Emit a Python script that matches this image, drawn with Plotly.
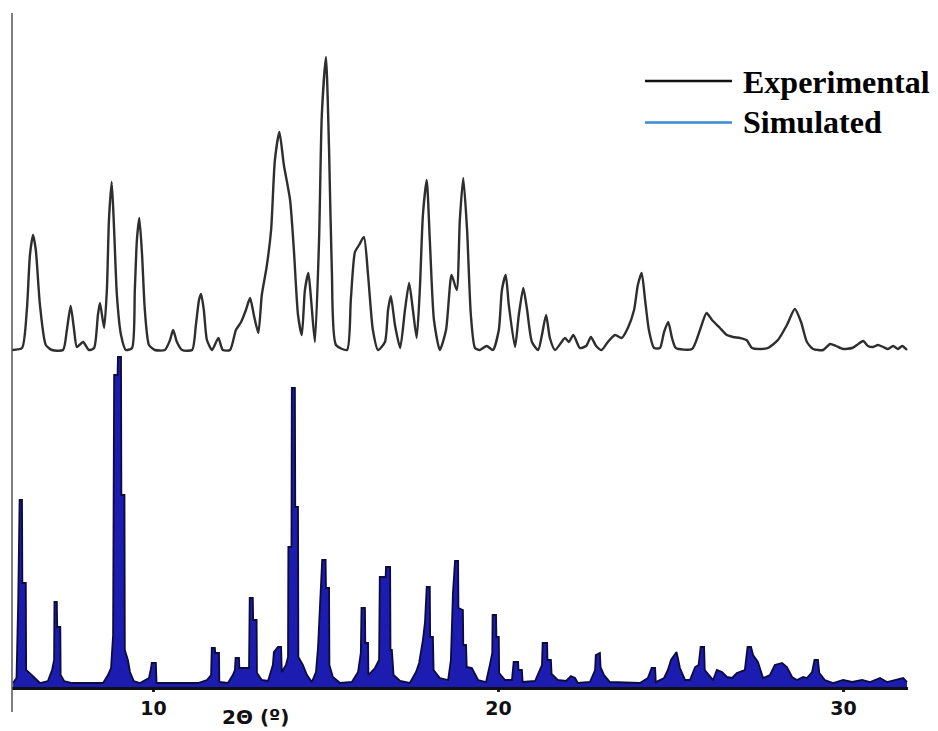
import plotly.graph_objects as go

# ---------------- data ----------------
exp_2theta = [
    5.90, 6.19, 6.33, 6.42, 6.51, 6.59, 6.71, 6.88, 7.06, 7.38,
    7.49, 7.60, 7.70, 7.78, 7.96, 8.13, 8.28, 8.39, 8.45, 8.57,
    8.65, 8.71, 8.79, 8.86, 8.94, 9.06, 9.20, 9.38, 9.46, 9.52,
    9.59, 9.67, 9.75, 9.87, 10.04, 10.33, 10.48, 10.57, 10.68, 10.83,
    11.12, 11.23, 11.32, 11.38, 11.46, 11.55, 11.70, 11.88, 12.01, 12.22,
    12.39, 12.54, 12.68, 12.80, 12.91, 13.04, 13.14, 13.28, 13.41, 13.52,
    13.65, 13.78, 13.96, 14.07, 14.19, 14.30, 14.39, 14.49, 14.57, 14.68,
    14.80, 14.88, 15.00, 15.09, 15.17, 15.29, 15.61, 15.72, 15.84, 15.96,
    16.10, 16.22, 16.36, 16.51, 16.71, 16.80, 16.88, 17.00, 17.15, 17.29,
    17.41, 17.52, 17.63, 17.72, 17.81, 17.92, 18.01, 18.13, 18.30, 18.48,
    18.64, 18.79, 18.88, 18.98, 19.09, 19.20, 19.32, 19.46, 19.66, 19.84,
    20.01, 20.10, 20.21, 20.30, 20.48, 20.59, 20.72, 20.83, 20.97, 21.15,
    21.26, 21.38, 21.49, 21.64, 21.93, 22.04, 22.17, 22.36, 22.54, 22.68,
    22.83, 22.99, 23.17, 23.38, 23.57, 23.75, 23.93, 24.04, 24.15, 24.25,
    24.36, 24.51, 24.68, 24.80, 24.92, 25.03, 25.14, 25.61, 25.84, 26.03,
    26.19, 26.42, 26.62, 26.80, 27.00, 27.19, 27.35, 27.58, 27.81, 28.10,
    28.36, 28.59, 28.77, 28.94, 29.12, 29.41, 29.61, 29.78, 29.99, 30.25,
    30.39, 30.57, 30.71, 30.86, 31.00, 31.15, 31.29, 31.44, 31.58, 31.70, 31.84,
]
exp_intensity = [
    0, 2, 40, 95, 115, 100, 45, 5, 0, 0,
    20, 44, 20, 3, 8, 0, 2, 35, 47, 22,
    60, 130, 168, 120, 55, 15, 0, 2, 60, 110,
    132, 95, 40, 5, 0, 0, 10, 20, 8, 0,
    0, 25, 50, 56, 40, 10, 0, 12, 0, 0,
    20, 28, 40, 52, 35, 17, 55, 83, 120, 190,
    218, 185, 150, 100, 35, 15, 60, 77, 50, 8,
    110, 235, 293, 200, 80, 5, 0, 50, 98, 105,
    113, 75, 20, 0, 8, 40, 54, 25, 2, 40,
    67, 40, 12, 60, 135, 170, 110, 30, 0, 20,
    75, 60, 130, 172, 120, 35, 2, 0, 4, 0,
    20, 60, 75, 45, 3, 35, 62, 40, 8, 0,
    15, 35, 12, 0, 12, 8, 15, 2, 4, 13,
    4, 0, 8, 15, 12, 22, 40, 65, 77, 50,
    20, 2, 2, 18, 28, 12, 2, 1, 20, 37,
    30, 22, 15, 13, 12, 10, 2, 1, 2, 10,
    25, 41, 28, 8, 1, 0, 6, 4, 1, 2,
    5, 9, 4, 3, 5, 3, 1, 4, 1, 4, 0,
]

sim_2theta = [
    5.93, 6.03, 6.08, 6.12, 6.19, 6.20, 6.30, 6.31, 6.47, 6.71,
    6.94, 7.06, 7.12, 7.13, 7.20, 7.21, 7.30, 7.31, 7.41, 7.64,
    8.54, 8.68, 8.77, 8.83, 8.86, 8.96, 8.97, 9.06, 9.07, 9.16,
    9.17, 9.26, 9.32, 9.43, 9.61, 9.87, 9.93, 9.95, 10.07, 10.09,
    11.29, 11.55, 11.67, 11.69, 11.78, 11.79, 11.90, 11.91, 12.16, 12.30,
    12.36, 12.38, 12.48, 12.49, 12.77, 12.79, 12.88, 12.89, 12.99, 13.00,
    13.14, 13.32, 13.46, 13.49, 13.61, 13.70, 13.72, 13.84, 13.90, 13.91,
    14.00, 14.01, 14.10, 14.11, 14.19, 14.20, 14.33, 14.45, 14.59, 14.71,
    14.77, 14.89, 14.99, 15.00, 15.09, 15.10, 15.20, 15.41, 15.75, 15.93,
    16.01, 16.03, 16.13, 16.14, 16.22, 16.23, 16.42, 16.54, 16.56, 16.73,
    16.74, 16.86, 16.87, 16.91, 16.96, 17.15, 17.43, 17.61, 17.70, 17.81,
    17.87, 17.92, 18.01, 18.02, 18.10, 18.12, 18.30, 18.54, 18.62, 18.68,
    18.74, 18.83, 18.84, 18.97, 18.98, 19.06, 19.08, 19.23, 19.41, 19.64,
    19.75, 19.82, 19.83, 19.93, 19.94, 20.01, 20.02, 20.19, 20.39, 20.44,
    20.57, 20.58, 20.68, 20.70, 21.06, 21.17, 21.26, 21.28, 21.41, 21.42,
    21.52, 21.54, 21.72, 21.96, 22.10, 22.22, 22.30, 22.65, 22.80, 22.82,
    22.94, 22.96, 23.06, 23.23, 24.10, 24.33, 24.44, 24.54, 24.56, 24.80,
    24.91, 25.00, 25.09, 25.16, 25.20, 25.26, 25.41, 25.55, 25.70, 25.80,
    25.86, 25.96, 25.98, 26.22, 26.33, 26.48, 26.62, 26.77, 26.91, 27.14,
    27.22, 27.32, 27.38, 27.52, 27.67, 27.87, 28.01, 28.22, 28.36, 28.51,
    28.65, 28.83, 28.94, 29.09, 29.16, 29.26, 29.30, 29.46, 29.70, 29.99,
    30.25, 30.54, 30.77, 31.06, 31.26, 31.55, 31.73, 31.84,
]
sim_intensity = [
    4, 9, 87, 187, 187, 104, 104, 17, 12, 4,
    6, 17, 27, 85, 85, 60, 60, 12, 6, 4,
    4, 12, 19, 52, 312, 312, 330, 330, 192, 192,
    37, 27, 15, 6, 4, 9, 19, 24, 24, 4,
    4, 7, 12, 39, 39, 34, 34, 5, 4, 12,
    17, 29, 29, 19, 19, 89, 89, 67, 67, 14,
    7, 6, 22, 35, 40, 40, 15, 22, 30, 140,
    140, 299, 299, 180, 180, 30, 22, 12, 5, 15,
    40, 127, 127, 99, 99, 22, 10, 4, 5, 15,
    34, 79, 79, 44, 44, 12, 19, 27, 110, 110,
    120, 120, 37, 37, 12, 6, 4, 15, 24, 47,
    65, 100, 100, 50, 50, 17, 9, 7, 27, 94,
    126, 126, 79, 77, 42, 42, 20, 19, 7, 5,
    22, 34, 72, 72, 50, 50, 14, 7, 7, 25,
    25, 17, 17, 5, 6, 15, 22, 44, 44, 27,
    27, 13, 7, 6, 11, 9, 4, 5, 17, 32,
    34, 20, 12, 5, 4, 9, 19, 19, 5, 9,
    17, 27, 32, 35, 29, 19, 7, 7, 20, 22,
    40, 40, 17, 7, 17, 15, 10, 9, 14, 17,
    40, 40, 32, 25, 9, 12, 22, 24, 20, 10,
    7, 10, 9, 15, 27, 27, 14, 7, 4, 7,
    5, 7, 5, 9, 5, 7, 9, 5,
]

exp_offset = 337          # vertical stacking offset of the experimental pattern
tick_vals = [10, 20, 30]
tick_text = ["10", "20", "30"]
series_names = ["Experimental", "Simulated"]
axis_title = "2\u0398 (\u00ba)"
x_range = [5.9, 31.87]
y_range = [0, 674]

# ---------------- figure ----------------
fig = go.Figure()

fig.add_trace(go.Scatter(
    x=sim_2theta, y=sim_intensity, mode="lines", name=series_names[1],
    line=dict(color="#0c0c3c", width=1.8), fill="tozeroy",
    fillcolor="#1c1cb0", showlegend=False,
))

fig.add_trace(go.Scatter(
    x=exp_2theta, y=[v + exp_offset for v in exp_intensity], mode="lines",
    name=series_names[0], line=dict(color="#2e2e2e", width=2.4, shape="spline", smoothing=0.6),
    showlegend=False,
))

def px_x(p):
    return (p - 12) / 896.0

def px_y(p):
    return (687 - p) / 674.0

shapes = [
    dict(type="line", xref="paper", yref="paper", x0=0, x1=0, y0=px_y(712), y1=1,
         line=dict(color="#555555", width=1.5)),
    dict(type="line", xref="paper", yref="paper", x0=px_x(645), x1=px_x(732),
         y0=px_y(81), y1=px_y(81), line=dict(color="#111111", width=2.5)),
    dict(type="line", xref="paper", yref="paper", x0=px_x(645), x1=px_x(732),
         y0=px_y(122.5), y1=px_y(122.5), line=dict(color="#3a8ad0", width=2.5)),
]

annotations = [
    dict(text="<b>" + series_names[0] + "</b>", xref="paper", yref="paper",
         x=px_x(741), y=px_y(82), xanchor="left", yanchor="middle", showarrow=False,
         font=dict(family="Liberation Serif", size=32, color="#000000")),
    dict(text="<b>" + series_names[1] + "</b>", xref="paper", yref="paper",
         x=px_x(741), y=px_y(122), xanchor="left", yanchor="middle", showarrow=False,
         font=dict(family="Liberation Serif", size=32, color="#000000")),
    dict(text="<b>" + axis_title + "</b>", xref="paper", yref="paper",
         x=px_x(255), y=px_y(717), xanchor="center", yanchor="middle", showarrow=False,
         font=dict(family="DejaVu Sans", size=20, color="#111111")),
]

fig.update_layout(
    width=938, height=731,
    margin=dict(l=12, r=30, t=13, b=44, pad=0),
    paper_bgcolor="white", plot_bgcolor="white",
    showlegend=False,
    shapes=shapes, annotations=annotations,
    xaxis=dict(
        range=x_range, showline=True, linecolor="#111111", linewidth=2.5,
        ticks="outside", ticklen=2, tickwidth=3, tickcolor="#222222",
        tickvals=tick_vals, ticktext=tick_text,
        tickfont=dict(family="DejaVu Sans", size=19, color="#111111", weight="bold"),
        showgrid=False, zeroline=False,
    ),
    yaxis=dict(
        range=y_range, showline=False, showticklabels=False, ticks="",
        showgrid=False, zeroline=False,
    ),
)

fig.write_html("out.html")
